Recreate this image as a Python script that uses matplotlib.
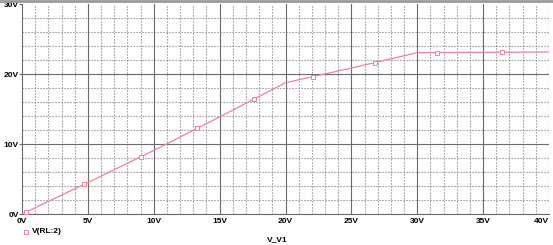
import matplotlib
matplotlib.use('Agg')
import matplotlib.pyplot as plt
from matplotlib.lines import Line2D
import numpy as np

plt.rcParams['font.family'] = ['Liberation Sans', 'DejaVu Sans']

# curve vertices (V_V1 -> V(RL:2))
v_in = [0, 5, 10, 15, 20, 25, 30, 40]
v_out = [0, 4.5, 9.1, 13.9, 18.8, 20.9, 23.1, 23.2]

# marker positions along the trace
mark_x = [0.3, 4.7, 9.0, 13.3, 17.6, 22.1, 26.8, 31.5, 36.4]

x_ticks = [0, 5, 10, 15, 20, 25, 30, 35, 40]
x_labels = ['0V', '5V', '10V', '15V', '20V', '25V', '30V', '35V', '40V']
y_ticks = [0, 10, 20, 30]
y_labels = ['0V', '10V', '20V', '30V']

trace_color = '#f2809a'
grid_major = '#6a6a6a'
grid_minor = '#777777'

fig = plt.figure(figsize=(5.53, 2.45), dpi=100)
ax = fig.add_axes([22/553, 1 - 214/245, (549 - 22)/553, (214 - 4.5)/245])

ax.set_xlim(0, 40)
ax.set_ylim(0, 30)

# minor dotted grid
for xv in np.arange(1, 40, 1):
    if xv % 5:
        ax.axvline(xv, color=grid_minor, lw=0.8, ls=(0, (1, 1.7)), zorder=1)
for yv in np.arange(2, 30, 2):
    if yv % 10:
        ax.axhline(yv, color=grid_minor, lw=0.8, ls=(0, (1, 1.7)), zorder=1)
# major solid grid
for xv in x_ticks[1:]:
    ax.axvline(xv, color=grid_major, lw=0.8, zorder=1)
for yv in y_ticks[1:3]:
    ax.axhline(yv, color=grid_major, lw=0.8, zorder=1)

ax.plot(v_in, v_out, color=trace_color, lw=0.9, zorder=3)
mark_y = np.interp(mark_x, v_in, v_out)
ax.plot(mark_x, mark_y, ls='none', marker='s', ms=3, mfc='white',
        mec=trace_color, mew=0.7, zorder=4)

for s in ['top', 'right']:
    ax.spines[s].set_visible(False)
for s in ['left', 'bottom']:
    ax.spines[s].set_color(grid_major)
    ax.spines[s].set_linewidth(0.8)

ax.set_xticks(x_ticks)
ax.set_xticklabels(x_labels, fontsize=6, fontweight='bold')
ax.set_yticks(y_ticks)
ax.set_yticklabels(y_labels, fontsize=6, fontweight='bold')
ax.tick_params(axis='x', length=0, pad=3)
ax.tick_params(axis='y', length=2, width=0.8, color=grid_major, pad=0.5)
ax.get_xticklabels()[-1].set_ha('right')

# legend entry and axis title
fig.add_artist(Line2D([26/553], [1 - 231.5/245], marker='s', ms=3, mfc='white',
                      mec=trace_color, mew=0.7, ls='none'))
fig.text(32/553, 1 - 231.5/245, 'V(RL:2)', fontsize=6, fontweight='bold',
         va='center', ha='left')
fig.text(277/553, 1 - 240/245, 'V_V1', fontsize=6, fontweight='bold',
         va='center', ha='center')

# frame line along the top edge
fig.add_artist(Line2D([0, 1], [1 - 1.5/245, 1 - 1.5/245], color='#9a9a9a', lw=2))

fig.savefig('out.png', dpi=100)
